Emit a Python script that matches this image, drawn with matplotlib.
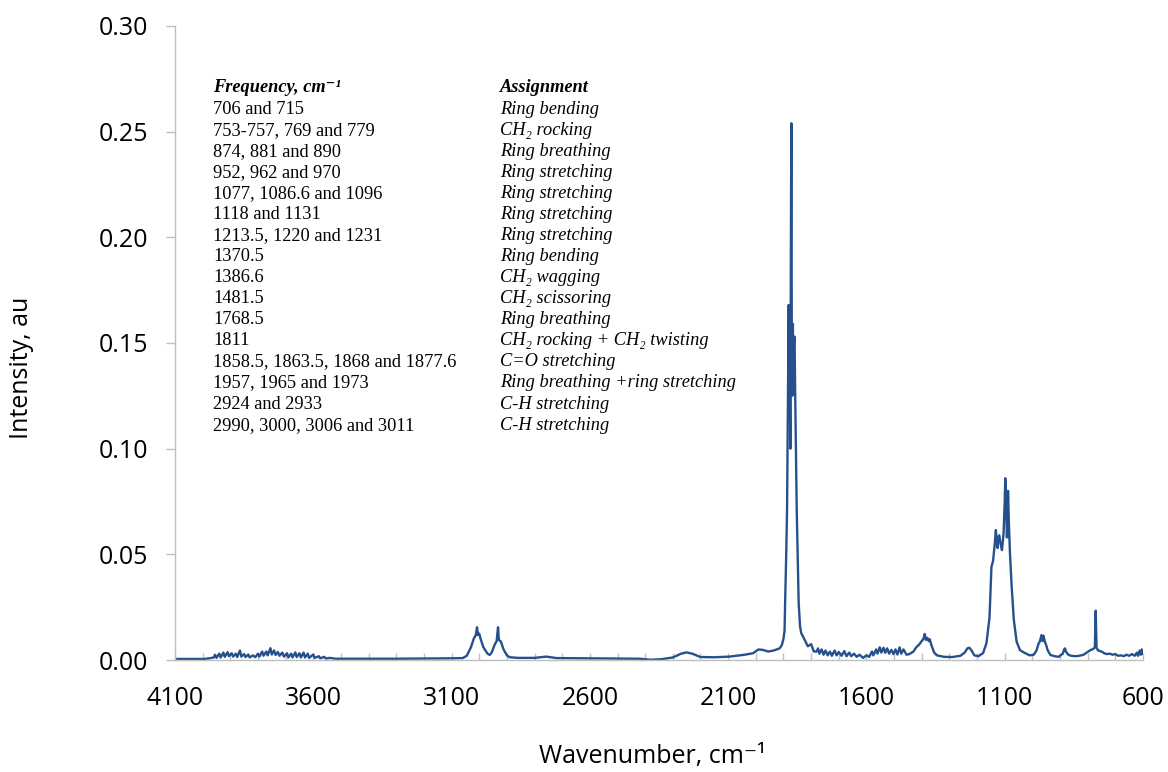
import matplotlib
matplotlib.use("Agg")
import matplotlib.pyplot as plt
from matplotlib.ticker import MultipleLocator, FixedLocator

# spectrum (wavenumber, cm-1 / intensity, au)
wn = [4095, 4040, 3995, 3975, 3960, 3955, 3950, 3940, 3935, 3925, 3920, 3910, 3905,
      3895, 3890, 3880, 3875, 3865, 3860, 3850, 3845, 3835, 3830, 3818, 3810, 3800,
      3795, 3785, 3780, 3770, 3765, 3755, 3750, 3742, 3736, 3728, 3722, 3712, 3706,
      3695, 3690, 3680, 3675, 3665, 3660, 3650, 3645, 3635, 3630, 3620, 3615, 3600,
      3595, 3580, 3575, 3560, 3555, 3540, 3520,
      3500, 3300, 3200, 3100, 3060,
      3045, 3030, 3020, 3012, 3008, 3005, 3000, 2995, 2985, 2970, 2962, 2955, 2945,
      2937, 2932, 2929, 2922, 2912, 2900, 2890, 2860, 2800, 2758, 2720, 2600, 2500,
      2420, 2380, 2340, 2300, 2270, 2250, 2230, 2200, 2150, 2095, 2040, 2010, 1990,
      1975, 1955, 1935, 1914, 1906, 1900, 1896, 1894, 1890, 1887, 1884, 1881, 1879,
      1877, 1875, 1873, 1871.5, 1870, 1868, 1866, 1864, 1862, 1860, 1857, 1852, 1848,
      1845, 1840, 1836, 1825, 1812, 1800, 1790,
      1780, 1775, 1770, 1762, 1755, 1748, 1740, 1732, 1725, 1715, 1708, 1700, 1690,
      1680, 1672, 1662, 1655, 1645, 1635, 1625, 1612, 1600, 1590, 1580, 1575, 1565,
      1560, 1552, 1546, 1538, 1532, 1525, 1518, 1510, 1502, 1495, 1488, 1480, 1474,
      1466, 1455, 1445, 1430, 1420, 1410, 1400, 1394, 1389, 1385, 1380, 1375, 1371,
      1365, 1355, 1345, 1320, 1290, 1260, 1245, 1235, 1228, 1220, 1210, 1195, 1178,
      1166, 1155, 1148, 1142, 1136, 1132, 1128, 1126, 1123, 1120, 1115, 1110, 1104,
      1100, 1098, 1095, 1092, 1090, 1088, 1085, 1081, 1075, 1067, 1057, 1045, 1030,
      1010, 995, 985, 977, 973, 967, 963, 960, 955, 950, 945, 935, 920, 905, 890,
      885, 882, 878, 870, 860, 845, 830, 815, 800, 790, 780, 774, 771, 768, 762,
      750, 740, 730, 720, 710, 700, 690, 680, 670, 660, 650, 640, 630, 622, 618,
      612, 608, 604, 600]
intensity = [0.0005, 0.0005, 0.0005, 0.0008, 0.0012, 0.0025, 0.0010, 0.0030, 0.0012,
             0.0035, 0.0015, 0.0037, 0.0018, 0.0032, 0.0016, 0.0030, 0.0014, 0.0045,
             0.0016, 0.0028, 0.0014, 0.0026, 0.0012, 0.0022, 0.0013, 0.0030, 0.0016,
             0.0040, 0.0020, 0.0040, 0.0022, 0.0056, 0.0026, 0.0045, 0.0024, 0.0038,
             0.0020, 0.0035, 0.0016, 0.0032, 0.0012, 0.0030, 0.0012, 0.0036, 0.0014,
             0.0032, 0.0012, 0.0035, 0.0012, 0.0030, 0.0010, 0.0026, 0.0010, 0.0018,
             0.0008, 0.0015, 0.0007, 0.0010, 0.0006,
             0.0006, 0.0006, 0.0007, 0.0008, 0.0009,
             0.0020, 0.0060, 0.0100, 0.0120, 0.0155, 0.0118, 0.0125, 0.0100, 0.0060,
             0.0030, 0.0024, 0.0035, 0.0070, 0.0090, 0.0155, 0.0095, 0.0088, 0.0050,
             0.0022, 0.0013, 0.0010, 0.0010, 0.0016, 0.0009, 0.0008, 0.0007, 0.0006,
             0.0001, 0.0004, 0.0012, 0.0030, 0.0036, 0.0030, 0.0014, 0.0013, 0.0016,
             0.0025, 0.0032, 0.0050, 0.0048, 0.0040, 0.0045, 0.0055, 0.0070, 0.0100,
             0.0140, 0.0270, 0.0500, 0.0710, 0.1200, 0.1680, 0.1200, 0.1350, 0.1000,
             0.2000, 0.2540, 0.1600, 0.1250, 0.1590, 0.1350, 0.1500, 0.1530, 0.1200,
             0.0710, 0.0450, 0.0270, 0.0160, 0.0128, 0.0100, 0.0065, 0.0075, 0.0040,
             0.0040, 0.0055, 0.0030, 0.0050, 0.0025, 0.0045, 0.0022, 0.0040, 0.0020,
             0.0045, 0.0022, 0.0038, 0.0020, 0.0042, 0.0018, 0.0035, 0.0018, 0.0030,
             0.0015, 0.0025, 0.0010, 0.0022, 0.0015, 0.0040, 0.0022, 0.0050, 0.0030,
             0.0060, 0.0035, 0.0058, 0.0034, 0.0055, 0.0030, 0.0048, 0.0028, 0.0050,
             0.0026, 0.0060, 0.0030, 0.0050, 0.0025, 0.0028, 0.0040, 0.0060, 0.0072,
             0.0090, 0.0100, 0.0123, 0.0095, 0.0105, 0.0090, 0.0098, 0.0070, 0.0035,
             0.0022, 0.0015, 0.0014, 0.0020, 0.0035, 0.0055, 0.0058, 0.0045, 0.0022,
             0.0018, 0.0033, 0.0080, 0.0200, 0.0440, 0.0470, 0.0550, 0.0615, 0.0550,
             0.0530, 0.0580, 0.0590, 0.0550, 0.0520, 0.0600, 0.0750, 0.0860, 0.0750,
             0.0580, 0.0650, 0.0800, 0.0650, 0.0505, 0.0350, 0.0190, 0.0087, 0.0047,
             0.0035, 0.0022, 0.0025, 0.0045, 0.0080, 0.0087, 0.0118, 0.0090, 0.0115,
             0.0087, 0.0070, 0.0047, 0.0024, 0.0018, 0.0015, 0.0030, 0.0050, 0.0055,
             0.0038, 0.0025, 0.0020, 0.0018, 0.0020, 0.0025, 0.0038, 0.0047, 0.0052,
             0.0060, 0.0233, 0.0058, 0.0045, 0.0040, 0.0032, 0.0028, 0.0030, 0.0025,
             0.0028, 0.0020, 0.0022, 0.0018, 0.0025, 0.0020, 0.0028, 0.0020, 0.0035,
             0.0020, 0.0045, 0.0025, 0.0050, 0.0030]

# band assignment table
freq_rows = ["706 and 715", "753-757, 769 and 779", "874, 881 and 890",
             "952, 962 and 970", "1077, 1086.6 and 1096", "1118 and 1131",
             "1213.5, 1220 and 1231", "1370.5", "1386.6", "1481.5", "1768.5", "1811",
             "1858.5, 1863.5, 1868 and 1877.6", "1957, 1965 and 1973",
             "2924 and 2933", "2990, 3000, 3006 and 3011"]
assign_rows = ["Ring bending", "CH\u2082 rocking", "Ring breathing", "Ring stretching",
               "Ring stretching", "Ring stretching", "Ring stretching", "Ring bending",
               "CH\u2082 wagging", "CH\u2082 scissoring", "Ring breathing",
               "CH\u2082 rocking + CH\u2082 twisting", "C=O stretching",
               "Ring breathing +ring stretching", "C-H stretching", "C-H stretching"]

W, H = 1168, 772
fig = plt.figure(figsize=(W / 100, H / 100), dpi=100)
ax = fig.add_axes([175 / W, 1 - 660 / H, (1143 - 175) / W, (660 - 26) / H])

ax.plot(wn, intensity, color="#26508c", linewidth=1.7)

ax.set_xlim(4100, 600)
ax.set_ylim(0, 0.30)
ax.xaxis.set_major_locator(FixedLocator([4100, 3600, 3100, 2600, 2100, 1600, 1100, 600]))
ax.xaxis.set_minor_locator(MultipleLocator(100))
ax.yaxis.set_major_locator(MultipleLocator(0.05))
ax.yaxis.set_major_formatter(matplotlib.ticker.FormatStrFormatter("%.2f"))

grey = "#bfbfbf"
for s in ["top", "right"]:
    ax.spines[s].set_visible(False)
for s in ["left", "bottom"]:
    ax.spines[s].set_color(grey)
    ax.spines[s].set_linewidth(1.0)

sans = ["Open Sans", "DejaVu Sans"]
ax.tick_params(axis="y", direction="out", length=6.5, width=1, color=grey, pad=13)
ax.tick_params(axis="x", which="both", direction="in", length=5, width=1, color=grey, pad=19)
for lab in ax.get_xticklabels() + ax.get_yticklabels():
    lab.set_fontfamily(sans)
    lab.set_fontsize(18)

fig.text(22 / W, 1 - 368 / H, "Intensity, au", rotation=90, ha="center", va="center",
         family=sans, fontsize=18)
fig.text(652 / W, 1 - 757 / H, "Wavenumber, cm\u207b\u00b9", ha="center", va="center",
         family=sans, fontsize=18)

serif = ["Liberation Serif", "DejaVu Serif"]
x_left, x_right = 213 / W, 500 / W
y0, dy = 88, 21.07
fs = 13.2
fig.text(x_left, 1 - y0 / H, "Frequency, cm\u207b\u00b9", family=serif, fontsize=fs,
         fontweight="bold", fontstyle="italic", va="center")
fig.text(x_right, 1 - y0 / H, "Assignment", family=serif, fontsize=fs,
         fontweight="bold", fontstyle="italic", va="center")
for i, (f, a) in enumerate(zip(freq_rows, assign_rows)):
    yy = 1 - (y0 + dy * (i + 1)) / H
    fig.text(x_left, yy, f, family=serif, fontsize=fs, va="center")
    fig.text(x_right, yy, a, family=serif, fontsize=fs, fontstyle="italic", va="center")

fig.savefig("out.png", dpi=100)
